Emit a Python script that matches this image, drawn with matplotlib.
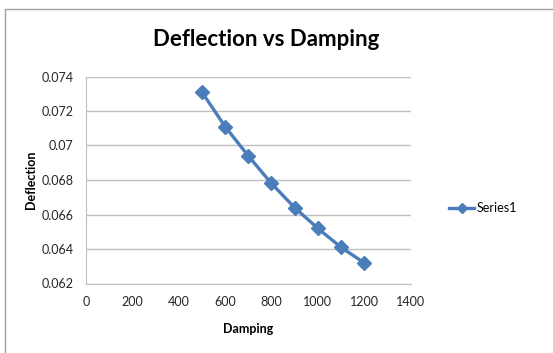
import matplotlib
matplotlib.use("Agg")
import matplotlib.pyplot as plt
from matplotlib.patches import Rectangle
from matplotlib.lines import Line2D

damping = [500, 600, 700, 800, 900, 1000, 1100, 1200]
deflection = [0.0731, 0.0711, 0.0694, 0.0678, 0.0664, 0.0652, 0.0641, 0.0632]
x_ticks = [0, 200, 400, 600, 800, 1000, 1200, 1400]
y_ticks = [0.062, 0.064, 0.066, 0.068, 0.07, 0.072, 0.074]
y_tick_labels = ["0.062", "0.064", "0.066", "0.068", "0.07", "0.072", "0.074"]

W, H = 553, 353
fig = plt.figure(figsize=(W / 100, H / 100), dpi=100)
plt.rcParams["font.family"] = ["Lato", "DejaVu Sans"]

blue = "#4a7ebb"
grid_c = "#bfbfbf"

# outer chart frame
fig.patches.append(Rectangle((5 / W, -0.01), 1.2, 1 - 9 / H + 0.01,
                             transform=fig.transFigure, fill=False,
                             edgecolor="#a0a0a0", lw=1.0))

ax = fig.add_axes([86 / W, 1 - 283.5 / H, (410.5 - 86) / W, (283.5 - 76.5) / H])
ax.plot(damping, deflection, color=blue, lw=2.4, marker="D", ms=7.5,
        markerfacecolor=blue, markeredgecolor=blue, solid_joinstyle="round",
        label="Series1", clip_on=False)

ax.set_xlim(0, 1400)
ax.set_ylim(0.062, 0.074)
ax.set_xticks(x_ticks)
ax.set_xticklabels([str(v) for v in x_ticks])
ax.set_yticks(y_ticks)
ax.set_yticklabels(y_tick_labels)
ax.tick_params(axis="both", length=0, labelsize=9, labelcolor="#262626")
ax.tick_params(axis="x", pad=9)
ax.tick_params(axis="y", pad=9)
ax.grid(axis="y", color=grid_c, lw=1.0)
ax.set_axisbelow(True)
for s in ["top", "right"]:
    ax.spines[s].set_visible(False)
ax.spines["left"].set_color(grid_c)
ax.spines["bottom"].set_color(grid_c)

fig.text(266 / W, 1 - 40 / H, "Deflection vs Damping", ha="center", va="center",
         fontsize=16, fontweight="bold")
fig.text(248 / W, 1 - 329 / H, "Damping", ha="center", va="center",
         fontsize=9, fontweight="bold")
fig.text(31 / W, 1 - 180 / H, "Deflection", ha="center", va="center",
         rotation=90, fontsize=9, fontweight="bold")

handle = Line2D([], [], color=blue, lw=2.4, marker="D", ms=5,
                markerfacecolor=blue, markeredgecolor=blue)
fig.legend([handle], ["Series1"], loc="center left",
           bbox_to_anchor=(444 / W, 1 - 208 / H), frameon=False,
           fontsize=9, handlelength=2.0, handletextpad=0.2,
           borderaxespad=0)

fig.savefig("out.png", dpi=100)
